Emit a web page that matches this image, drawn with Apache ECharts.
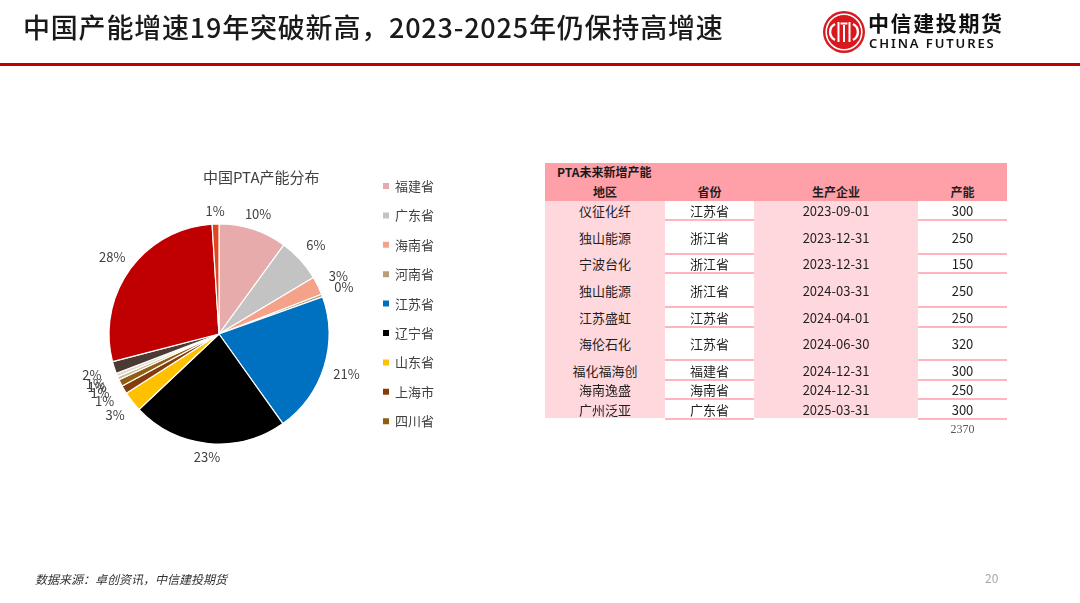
<!DOCTYPE html>
<html>
<head>
<meta charset="utf-8">
<script src="https://cdn.jsdelivr.net/npm/echarts@6.0.0/dist/echarts.min.js"></script>
<style>
  html,body{margin:0;padding:0;background:#fff;}
  body{width:1080px;height:603px;overflow:hidden;position:relative;font-family:"Noto Sans CJK SC","Noto Sans",sans-serif;}
  #chart{position:absolute;left:0;top:0;width:1080px;height:603px;}
  .abs{position:absolute;white-space:nowrap;}
  #title{left:23px;top:8px;font-size:27px;font-weight:500;color:#1a1a1a;letter-spacing:0.8px;line-height:38px;}
  #redline{left:0;top:63px;width:1080px;height:3px;background:#C00000;}
  #logoCn{left:868px;top:9px;font-size:21px;font-weight:700;color:#111;letter-spacing:1.6px;line-height:26px;}
  #logoEn{left:869px;top:35px;font-size:13px;font-weight:600;color:#111;letter-spacing:1.9px;line-height:16px;font-family:"Noto Sans","Roboto",sans-serif;}
  #footer{left:35px;top:570px;font-size:12px;font-style:italic;color:#333;line-height:18px;}
  #pageno{left:985px;top:569px;font-size:12px;color:#A6A6A6;line-height:18px;}
  .cell{position:absolute;display:flex;align-items:center;justify-content:center;font-size:13px;color:#1f1f1f;white-space:nowrap;}
</style>
</head>
<body>
<div id="chart"></div>
<div id="title" class="abs">中国产能增速19年突破新高，2023-2025年仍保持高增速</div>
<div id="redline" class="abs"></div>
<svg class="abs" style="left:822px;top:10px" width="44" height="44" viewBox="0 0 44 44">
  <circle cx="22" cy="22" r="21" fill="#D7191F"/>
  <circle cx="22" cy="22" r="17.8" fill="none" stroke="#fff" stroke-width="1.6"/>
  <path d="M13 14 A9 9 0 0 0 13 30" fill="none" stroke="#fff" stroke-width="2.4"/>
  <path d="M31 14 A9 9 0 0 1 31 30" fill="none" stroke="#fff" stroke-width="2.4"/>
  <path d="M16.5 12 L16.5 32 M27.5 12 L27.5 32 M22 15 L22 32 M18.5 13.5 L25.5 13.5" fill="none" stroke="#fff" stroke-width="2"/>
</svg>
<div id="logoCn" class="abs">中信建投期货</div>
<div id="logoEn" class="abs">CHINA FUTURES</div>
<div id="table" class="abs" style="left:0;top:0;"></div>
<div id="footer" class="abs">数据来源：卓创资讯，中信建投期货</div>
<div id="pageno" class="abs">20</div>

<script>
// ---------- data ----------
const pieNames   = ['福建省','广东省','海南省','河南省','江苏省','辽宁省','山东省','上海市','四川省','重庆市','新疆','天津市','浙江省','其他'];
const pieValues  = [10.0, 6.4, 2.7, 0.4, 20.6, 22.8, 3.0, 1.2, 1.0, 0.5, 0.5, 1.8, 28.0, 1.0];
const legendNames = ['福建省','广东省','海南省','河南省','江苏省','辽宁省','山东省','上海市','四川省'];
const chartTitle = '中国PTA产能分布';

const tableTitle   = 'PTA未来新增产能';
const tableHeaders = ['地区','省份','生产企业','产能'];
const companies    = ['仪征化纤','独山能源','宁波台化','独山能源','江苏盛虹','海伦石化','福化福海创','海南逸盛','广州泛亚'];
const provinces    = ['江苏省','浙江省','浙江省','浙江省','江苏省','江苏省','福建省','海南省','广东省'];
const dates        = ['2023-09-01','2023-12-31','2023-12-31','2024-03-31','2024-04-01','2024-06-30','2024-12-31','2024-12-31','2025-03-31'];
const capacities   = [300, 250, 150, 250, 250, 320, 300, 250, 300];
const capacityTotal = 2370;

// ---------- styles ----------
const pieColors = ['#E8ABAB','#C3C3C3','#F4A28A','#B4A07E','#0070C0','#000000','#FFC000','#843C0C','#8F5E13','#CDBB9E','#E3D8C8','#4B3A33','#C00000','#E2461E'];

// ---------- table ----------
(function(){
  const t = document.getElementById('table');
  const L = 545, colX = [545, 665, 754, 918, 1007];
  const rowH = [19, 34, 19, 34, 20, 33, 20, 19, 20];
  const headTop = 163, bodyTop = 201;
  const pink = '#FFD8DE', head = '#FF9FA7', line = '#FFB5BF';
  let html = '';
  html += `<div class="abs" style="left:${L}px;top:${headTop}px;width:${colX[4]-L}px;height:${bodyTop-headTop}px;background:${head};"></div>`;
  html += `<div class="abs" style="left:557px;top:163px;font-size:12px;font-weight:700;color:#1a1a1a;line-height:17px;">${tableTitle}</div>`;
  tableHeaders.forEach((h,i)=>{
    html += `<div class="cell" style="left:${colX[i]}px;top:182px;width:${colX[i+1]-colX[i]}px;height:18px;font-size:12px;font-weight:700;">${h}</div>`;
  });
  const totalH = rowH.reduce((a,b)=>a+b,0);
  [0,2].forEach(c=>{
    html += `<div class="abs" style="left:${colX[c]}px;top:${bodyTop}px;width:${colX[c+1]-colX[c]}px;height:${totalH-1}px;background:${pink};"></div>`;
  });
  const cols = [companies, provinces, dates, capacities];
  let y = bodyTop;
  rowH.forEach((h,r)=>{
    cols.forEach((arr,c)=>{
      html += `<div class="cell" style="left:${colX[c]}px;top:${y}px;width:${colX[c+1]-colX[c]}px;height:${h}px;">${arr[r]}</div>`;
    });
    y += h;
    [1,3].forEach(c=>{
      html += `<div class="abs" style="left:${colX[c]}px;top:${y-1}px;width:${colX[c+1]-colX[c]}px;height:2px;background:${line};"></div>`;
    });
  });
  html += `<div class="cell" style="left:${colX[3]}px;top:${y+2}px;width:${colX[4]-colX[3]}px;height:17px;font-family:'Liberation Serif','DejaVu Serif',serif;font-size:12px;color:#595959;">${capacityTotal}</div>`;
  t.innerHTML = html;
})();

// ---------- pie ----------
const CX = 219, CY = 334, R = 110;
const sumV = pieValues.reduce((a,b)=>a+b,0);
const midFrac = []; (function(){ let s=0; pieValues.forEach(v=>{ midFrac.push((s+v/2)/sumV); s+=v; }); })();

const chart = echarts.init(document.getElementById('chart'), null, {renderer:'canvas'});
chart.setOption({
  animation:false,
  textStyle:{fontFamily:'"Noto Sans CJK SC","Noto Sans",sans-serif'},
  title:{text:chartTitle, left:203, top:170, padding:0, textStyle:{fontSize:15, fontWeight:'normal', color:'#404040'}},
  legend:{
    orient:'vertical', left:381, top:179, padding:0,
    itemWidth:8, itemHeight:8, itemGap:15.4, icon:'rect', selectedMode:false,
    data:legendNames,
    textStyle:{fontSize:13, color:'#404040', lineHeight:14}
  },
  series:[{
    type:'pie',
    center:[CX, CY], radius:R,
    startAngle:90, clockwise:true,
    avoidLabelOverlap:false,
    itemStyle:{borderColor:'#fff', borderWidth:1.2},
    label:{show:true, position:'outside', fontSize:13, color:'#404040',
      formatter:p=>Math.round(p.value/sumV*100)+'%'},
    labelLine:{show:false},
    labelLayout:function(p){
      const a = midFrac[p.dataIndex]*2*Math.PI;
      const sn = Math.sin(a), cs = Math.cos(a);
      const rr = R + 13 + 11*Math.abs(sn);
      return {x: CX + rr*sn, y: CY - rr*cs, align:'center', verticalAlign:'middle'};
    },
    emphasis:{disabled:true},
    data: pieNames.map((n,i)=>({name:n, value:pieValues[i], itemStyle:{color:pieColors[i]}}))
  }]
});
</script>
</body>
</html>
